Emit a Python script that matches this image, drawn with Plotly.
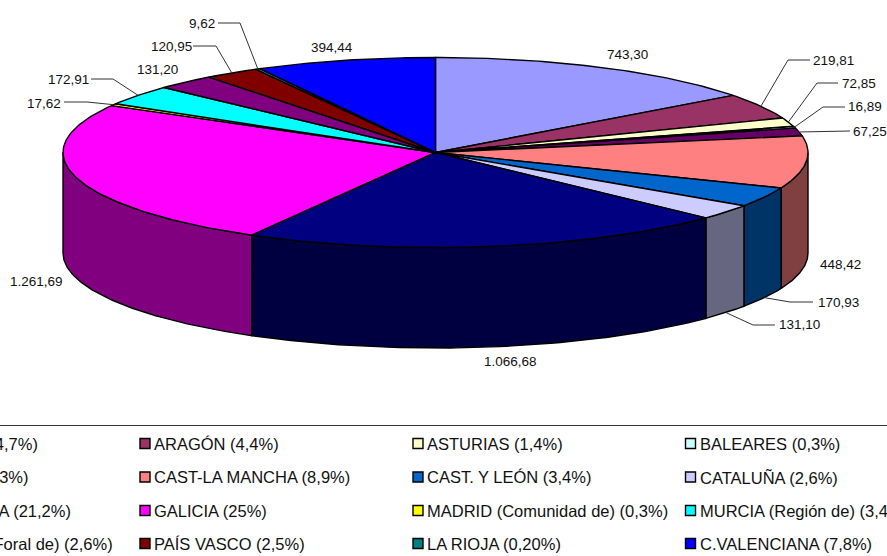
import numpy as np
import plotly.graph_objects as go

# ---- data ----
categories = ["ANDALUCÍA", "ARAGÓN", "ASTURIAS", "BALEARES", "CANARIAS",
              "CAST-LA MANCHA", "CAST. Y LEÓN", "CATALUÑA", "EXTREMADURA",
              "GALICIA", "MADRID (Comunidad de)", "MURCIA (Región de)",
              "NAVARRA (Com. Foral de)", "PAÍS VASCO", "LA RIOJA", "C.VALENCIANA"]
values = [743.30, 219.81, 72.85, 16.89, 67.25, 448.42, 170.93, 131.10,
          1066.68, 1261.69, 17.62, 172.91, 131.20, 120.95, 9.62, 394.44]
value_labels = ["743,30", "219,81", "72,85", "16,89", "67,25", "448,42", "170,93", "131,10",
                "1.066,68", "1.261,69", "17,62", "172,91", "131,20", "120,95", "9,62", "394,44"]
percent_labels = ["14,7%", "4,4%", "1,4%", "0,3%", "1,3%", "8,9%", "3,4%", "2,6%",
                  "21,2%", "25%", "0,3%", "3,4%", "2,6%", "2,5%", "0,20%", "7,8%"]

# ---- style and layout ----
top_colors = ["#9999FF", "#993366", "#FFFFCC", "#CCFFFF", "#660066", "#FF8080", "#0066CC", "#CCCCFF",
              "#000080", "#FF00FF", "#FFFF00", "#00FFFF", "#800080", "#800000", "#008080", "#0000FF"]
wall_colors = {5: "#804040", 6: "#003366", 7: "#666680", 8: "#000040", 9: "#800080"}
CX, CY, RX, RY, DEPTH = 435.5, 152.5, 372.5, 95, 100.5
W, H = 887, 556

label_pos = [(627, 54), (833, 60), (858.5, 83), (865, 106), (870, 131), (840, 264), (838, 302), (799, 324),
             (510, 361), (36, 281), (44, 103), (68, 79), (157, 69), (171, 46), (202, 23), (332, 47)]
# label index -> (elbow, end of the line at the label, rim used)
leaders = {1: ((788, 60), (810, 60), "top"), 2: ((817, 83), (838, 83), "top"),
           3: ((823, 107), (845, 107), "top"), 4: ((830, 131), (850, 131), "top"),
           6: ((790, 302), (813, 302), "bottom"), 7: ((753, 325), (775, 325), "bottom"),
           10: ((87, 102), (64, 102), "top"), 11: ((113, 79), (91, 79), "top"),
           13: ((216, 46), (193, 46), "top"), 14: ((240, 23), (218, 23), "top")}
legend_cols = [-128, 145, 418, 690.5]
legend_rows = [443.5, 477, 510.5, 543.5]
first_col_ends = [39, 30, 72, 114]
LABEL_FONT = dict(family="Liberation Sans, Arial, sans-serif", size=13.5, color="#111111")
LEGEND_FONT = dict(family="Liberation Sans, Arial, sans-serif", size=16.5, color="#111111")

# ---- geometry from the values ----
vals = np.array(values)
edges = np.concatenate([[0], np.cumsum(vals)]) / vals.sum() * 2 * np.pi


def rim(t, drop=0.0):
    return CX + RX * np.sin(t), CY - RY * np.cos(t) + drop


fig = go.Figure()
# side wall: only the arc facing the viewer
for i, col in wall_colors.items():
    a, b = max(edges[i], np.pi / 2), min(edges[i + 1], 3 * np.pi / 2)
    t = np.linspace(a, b, 80)
    xt, yt = rim(t)
    xb, yb = rim(t[::-1], DEPTH)
    fig.add_trace(go.Scatter(x=np.r_[xt, xb, xt[0]], y=np.r_[yt, yb, yt[0]], mode="lines", fill="toself",
                             fillcolor=col, line=dict(color="black", width=1.4),
                             hoverinfo="skip", showlegend=False))
# top face
for i in range(len(vals)):
    t = np.linspace(edges[i], edges[i + 1], max(6, int((edges[i + 1] - edges[i]) * 80)))
    xt, yt = rim(t)
    fig.add_trace(go.Scatter(x=np.r_[CX, xt, CX], y=np.r_[CY, yt, CY], mode="lines", fill="toself",
                             fillcolor=top_colors[i], line=dict(color="black", width=1.4),
                             name=categories[i], hoverinfo="name", showlegend=False))
# leader lines
for i, (elbow, end, where) in leaders.items():
    mid = (edges[i] + edges[i + 1]) / 2
    sx, sy = rim(mid, DEPTH if where == "bottom" else 0)
    fig.add_trace(go.Scatter(x=[sx, elbow[0], end[0]], y=[sy, elbow[1], end[1]], mode="lines",
                             line=dict(color="#333333", width=1), hoverinfo="skip", showlegend=False))
# legend swatches, filled row by row of the 4x4 grid
lx = [legend_cols[i % 4] for i in range(16)]
ly = [legend_rows[i // 4] for i in range(16)]
fig.add_trace(go.Scatter(x=lx, y=ly, mode="markers", showlegend=False, hoverinfo="skip",
                         marker=dict(symbol="square", size=10, color=top_colors,
                                     line=dict(color="black", width=1.4))))

ann = []
for i, txt in enumerate(value_labels):
    ann.append(dict(x=label_pos[i][0], y=label_pos[i][1], text=txt, showarrow=False,
                    xanchor="center", yanchor="middle", font=LABEL_FONT, borderpad=0))
for i, (name, pct) in enumerate(zip(categories, percent_labels)):
    txt = f"{name} ({pct})"
    if i % 4 == 0:
        # first column runs off the left edge of the picture, as in the reference
        ann.append(dict(x=first_col_ends[i // 4], y=ly[i], text=txt, showarrow=False,
                        xanchor="right", yanchor="middle", font=LEGEND_FONT, borderpad=0))
    else:
        ann.append(dict(x=lx[i] + 8, y=ly[i], text=txt, showarrow=False,
                        xanchor="left", yanchor="middle", font=LEGEND_FONT, borderpad=0))

fig.update_layout(
    width=W, height=H, margin=dict(l=0, r=0, t=0, b=0),
    paper_bgcolor="white", plot_bgcolor="white", showlegend=False,
    xaxis=dict(range=[0, W], visible=False, fixedrange=True),
    yaxis=dict(range=[H, 0], visible=False, fixedrange=True),
    annotations=ann,
    shapes=[dict(type="line", x0=0, x1=W, y0=425.5, y1=425.5, line=dict(color="#333333", width=1))],
)
fig.write_html("out.html", config={"displayModeBar": False},
               post_script="document.body.style.margin='0';document.documentElement.style.overflow='hidden';")
